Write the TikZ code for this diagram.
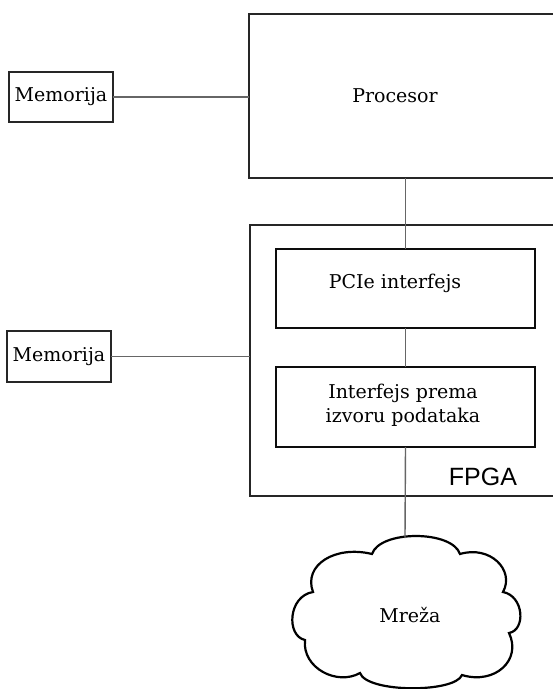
\documentclass[tikz,border=0pt]{standalone}
\usepackage{fontspec}
\setmainfont{DejaVu Serif}
\newfontfamily\chipfont{Liberation Sans}
\begin{document}
\begin{tikzpicture}[x=1pt,y=-1pt,
  block/.style={draw=black!85, line width=2.3pt, inner sep=0pt, outer sep=0pt},
  wire/.style={draw=black!60, line width=1.4pt},
  txt/.style={font=\fontsize{19}{24}\selectfont, align=center, inner sep=0pt},
]
\clip (0,0) rectangle (553,689);
\fill[white] (0,0) rectangle (553,689);

% memories
\node[block, txt, minimum width=104pt, minimum height=50pt] (mem1) at (61,97) {Memorija};
\node[block, txt, minimum width=104pt, minimum height=51pt] (mem2) at (59,356.5) {Memorija};

% processor and FPGA (both run past the right edge)
\node[block, minimum width=400pt, minimum height=164pt] (proc) at (449,96) {};
\node[block, minimum width=400pt, minimum height=271pt] (fpga) at (450,360.5) {};

% blocks inside the FPGA
\node[block, draw=black!95, minimum width=259pt, minimum height=79pt] (pcie) at (405.5,288.5) {};
\node[block, draw=black!95, minimum width=259pt, minimum height=80pt] (ifc) at (405.5,407) {};

% labels
\node[txt] (proctext) at (395,96) {Procesor};
\node[txt] (pcietext) at (395,283) {PCIe interfejs};
\node[txt] (ifctext) at (403,405) {Interfejs prema\\izvoru podataka};
\node[inner sep=0pt, font=\chipfont\fontsize{25}{30}\selectfont] (fpgatext) at (483,477) {FPGA};

% network cloud
\draw[black, line width=2.2pt, line join=miter]
  (372,554) .. controls (380,530) and (452,530) .. (460,554)
  .. controls (490,545) and (515,570) .. (503,592)
  .. controls (524,596) and (526,630) .. (509,633)
  .. controls (522,660) and (495,685) .. (462,675)
  .. controls (455,693) and (367,693) .. (360,673)
  .. controls (337,686) and (302,668) .. (305,640)
  .. controls (286,636) and (288,596) .. (313,592)
  .. controls (303,565) and (335,545) .. (372,554) -- cycle;
\node[txt] (mreza) at (410,615) {Mreža};
\coordinate (cloudtop) at (405,538);

% connections
\draw[wire] (mem1.east) -- (mem1.east -| proc.west);
\draw[wire] (mem2.east) -- (mem2.east -| fpga.west);
\draw[wire] (pcie.north |- proc.south) -- (pcie.north);
\draw[wire] (pcie.south) -- (ifc.north);
\draw[wire] (ifc.south) -- (cloudtop);
\end{tikzpicture}
\end{document}
